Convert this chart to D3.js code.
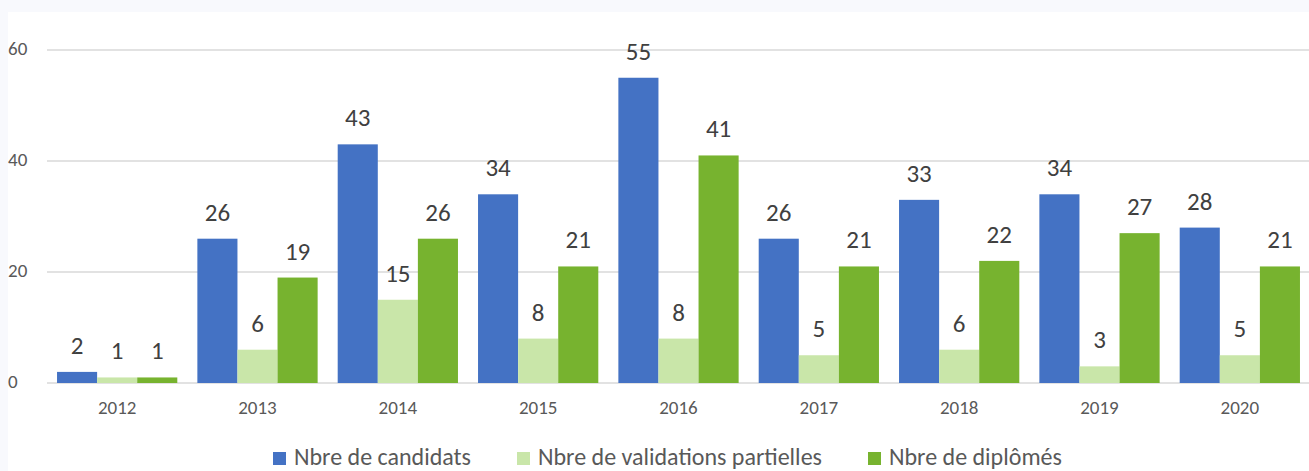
<!DOCTYPE html>
<html>
<head>
<meta charset="utf-8">
<script src="https://cdn.jsdelivr.net/npm/d3@7"></script>
<style>
  body { margin: 0; background: #f8f9fd; }
  svg { display: block; font-family: Carlito, Lato, sans-serif; }
</style>
</head>
<body>
<svg></svg>
<script>
let width = 1309
let height = 471

let years = ['2012', '2013', '2014', '2015', '2016', '2017', '2018', '2019', '2020']
let seriesNames = ['Nbre de candidats', 'Nbre de validations partielles', 'Nbre de diplômés']
let candidats = [2, 26, 43, 34, 55, 26, 33, 34, 28]
let validations = [1, 6, 15, 8, 8, 5, 6, 3, 5]
let diplomes = [1, 19, 26, 21, 41, 21, 22, 27, 21]
let yTicks = [0, 20, 40, 60]
let colors = ['#4472c4', '#c9e6a9', '#77b32f']

let series = [candidats, validations, diplomes]
let rows = years.map((y, i) => ({
    year: y,
    values: series.map((s, k) => ({ key: k, value: s[i] }))
}))

let svg = d3.select('svg')
    .attr('width', width)
    .attr('height', height)

svg.append('rect')
    .attr('x', 8).attr('y', 12)
    .attr('width', width - 8).attr('height', height - 12)
    .attr('fill', '#ffffff')

let x = d3.scaleBand()
    .domain(years)
    .range([47, 1310])
    .paddingInner(0.143)
    .paddingOuter(0.0715)
let xs = d3.scaleBand()
    .domain(d3.range(series.length))
    .range([0, x.bandwidth()])
let y = d3.scaleLinear()
    .domain([0, 60])
    .range([383, 50])

// grid
svg.append('g').selectAll('line')
    .data(yTicks).enter()
    .append('line')
    .attr('x1', 47).attr('x2', width)
    .attr('y1', d => y(d)).attr('y2', d => y(d))
    .attr('stroke', '#d9d9d9')
    .attr('stroke-width', 1.5)

svg.append('g').selectAll('text')
    .data(yTicks).enter()
    .append('text')
    .attr('x', 8)
    .attr('y', d => y(d) + 5)
    .attr('font-size', 19)
    .attr('fill', '#595959')
    .text(d => d)

let groups = svg.append('g').selectAll('g')
    .data(rows).enter()
    .append('g')
    .attr('transform', d => `translate(${x(d.year)},0)`)

groups.selectAll('rect')
    .data(d => d.values).enter()
    .append('rect')
    .attr('x', d => xs(d.key))
    .attr('width', xs.bandwidth())
    .attr('y', d => y(d.value))
    .attr('height', d => y(0) - y(d.value))
    .attr('fill', d => colors[d.key])

groups.selectAll('text')
    .data(d => d.values).enter()
    .append('text')
    .attr('x', d => xs(d.key) + xs.bandwidth() / 2)
    .attr('y', d => y(d.value) - 18)
    .attr('text-anchor', 'middle')
    .attr('font-size', 25)
    .attr('fill', '#404040')
    .text(d => d.value)

svg.append('g').selectAll('text')
    .data(years).enter()
    .append('text')
    .attr('x', d => x(d) + x.bandwidth() / 2)
    .attr('y', 414)
    .attr('text-anchor', 'middle')
    .attr('font-size', 19)
    .attr('fill', '#595959')
    .text(d => d)

// legend
let legendX = [273, 517, 868]
let legend = svg.append('g').selectAll('g')
    .data(seriesNames).enter()
    .append('g')
    .attr('transform', (d, i) => `translate(${legendX[i]},452)`)
legend.append('rect')
    .attr('width', 13).attr('height', 13)
    .attr('fill', (d, i) => colors[i])
legend.append('text')
    .attr('x', 21)
    .attr('y', 13)
    .attr('font-size', 24)
    .attr('fill', '#595959')
    .text(d => d)
</script>
</body>
</html>
